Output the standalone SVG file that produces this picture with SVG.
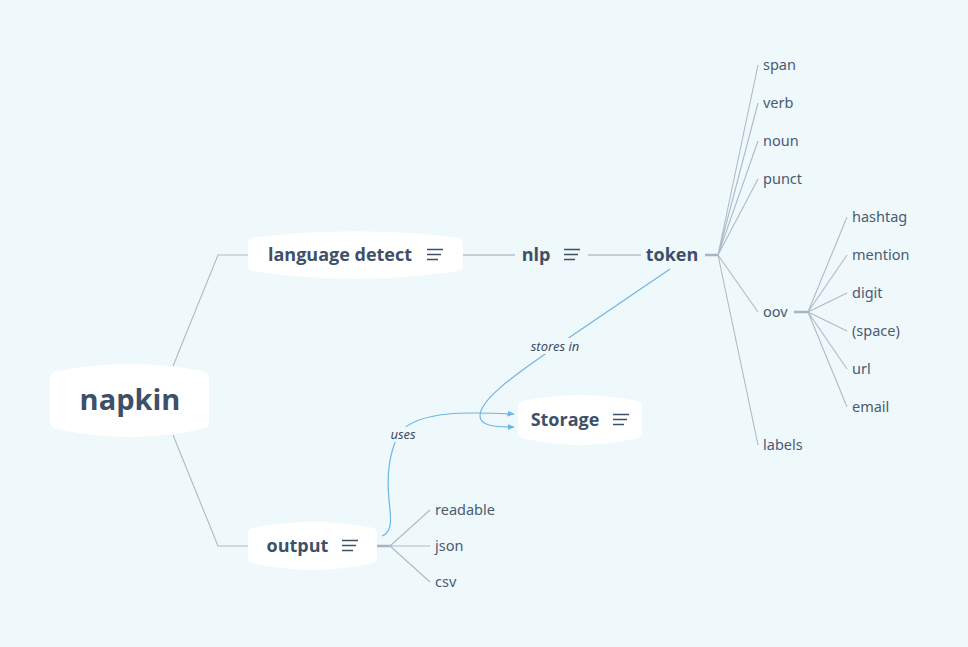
<svg xmlns="http://www.w3.org/2000/svg" width="968" height="647" viewBox="0 0 968 647">
<defs>
<style>
.bg{fill:#eff8fb}
.box{fill:#ffffff}
.t{font-family:"Open Sans","DejaVu Sans",sans-serif;font-weight:700;fill:#3e4f68;text-anchor:middle}
.c{font-family:"Noto Sans","DejaVu Sans",sans-serif;font-size:14.5px;fill:#4a5b73}
.rl{font-family:"Noto Sans","DejaVu Sans",sans-serif;font-size:13px;font-style:italic;fill:#3e4f68;text-anchor:middle}
.ln{fill:none;stroke:#aebac8;stroke-width:1.1}
.hl{fill:none;stroke:#c3ced9;stroke-width:2}
.stub{fill:none;stroke:#a7b4c3;stroke-width:2.5}
.rel{fill:none;stroke:#6cb6e4;stroke-width:1.2}
.ic{stroke:#3e4f68;stroke-width:1.5}
</style>
<marker id="arr" viewBox="0 0 10 10" refX="9" refY="5" markerWidth="6" markerHeight="6" orient="auto">
<path d="M0,1 L10,5 L0,9 z" fill="#6cb6e4"/>
</marker>
</defs>
<rect class="bg" x="0" y="0" width="968" height="647"/>

<g id="connectors">
<path class="ln" d="M173,366 L218,255 L248,255"/>
<path class="ln" d="M173,435 L218,546 L248,546"/>
<path class="hl" d="M463,255 L515,255"/>
<path class="hl" d="M588,255 L641,255"/>
<path class="stub" d="M705,255 L718,255"/>
<path class="ln" d="M718,255 L758,65 M718,255 L758,103 M718,255 L758,141 M718,255 L758,179 M718,255 L758,312 M718,255 L758,445"/>
<path class="stub" d="M794,312 L808,312"/>
<path class="ln" d="M808,312 L847,217 M808,312 L847,255 M808,312 L847,293 M808,312 L847,331 M808,312 L847,369 M808,312 L847,407"/>
<path class="stub" d="M377,546 L390,546"/>
<path class="ln" d="M390,546 L430,510 M390,546 L430,546 M390,546 L430,582"/>
<path class="rel" d="M670,269 L548,352 C512,377 480,400 480,416 C480,426 495,427 514,427" marker-end="url(#arr)"/>
<path class="rel" d="M382,536 C393,532 391,518 389,500 C387,480 387,455 400,432 C420,410 470,412 514,414" marker-end="url(#arr)"/>
<rect class="bg" x="527" y="338" width="56" height="16"/>
<text class="rl" x="555" y="351">stores in</text>
<rect class="bg" x="388" y="427" width="30" height="15"/>
<text class="rl" x="403" y="439">uses</text>
</g>

<g id="napkin">
<path class="box" d="M50,378 Q50,372 57,371 Q129.5,357 202,371 Q209,372 209,378 L209,422 Q209,428 202,429 Q129.5,445 57,429 Q50,428 50,422 Z"/>
<text class="t" x="130" y="410" font-size="29">napkin</text>
</g>

<g id="language-detect">
<path class="box" d="M248,243 Q248,238 254,237.5 Q355.5,225 457,237.5 Q463,238 463,243 L463,266 Q463,271 457,271.5 Q355.5,286 254,271.5 Q248,271 248,266 Z"/>
<text class="t" x="340" y="261" font-size="18">language detect</text>
<g class="ic"><line x1="427" y1="249.5" x2="443" y2="249.5"/><line x1="427" y1="254.5" x2="441" y2="254.5"/><line x1="427" y1="259.5" x2="438" y2="259.5"/></g>
</g>

<g id="nlp">
<text class="t" x="536" y="261" font-size="18">nlp</text>
<g class="ic"><line x1="564" y1="249.5" x2="580" y2="249.5"/><line x1="564" y1="254.5" x2="578" y2="254.5"/><line x1="564" y1="259.5" x2="575" y2="259.5"/></g>
</g>

<g id="token">
<text class="t" x="672" y="261" font-size="18">token</text>
</g>

<g id="storage">
<path class="box" d="M518,407 Q518,401 524,400.5 Q580,389.5 636,400.5 Q642,401 642,407 L642,433 Q642,438 636,438.5 Q580,451.5 524,438.5 Q518,438 518,433 Z"/>
<text class="t" x="565" y="426" font-size="18">Storage</text>
<g class="ic"><line x1="613" y1="414.5" x2="629" y2="414.5"/><line x1="613" y1="419.5" x2="627" y2="419.5"/><line x1="613" y1="424.5" x2="624" y2="424.5"/></g>
</g>

<g id="output">
<path class="box" d="M248,533 Q248,528 254,527.5 Q312.5,516.5 371,527.5 Q377,528 377,533 L377,558 Q377,563 371,563.5 Q312.5,576.5 254,563.5 Q248,563 248,558 Z"/>
<text class="t" x="297.5" y="552" font-size="18">output</text>
<g class="ic"><line x1="342" y1="540.5" x2="358" y2="540.5"/><line x1="342" y1="545.5" x2="356" y2="545.5"/><line x1="342" y1="550.5" x2="353" y2="550.5"/></g>
</g>

<g id="span"><text class="c" x="763" y="70">span</text></g>
<g id="verb"><text class="c" x="763" y="108">verb</text></g>
<g id="noun"><text class="c" x="763" y="146">noun</text></g>
<g id="punct"><text class="c" x="763" y="184">punct</text></g>
<g id="oov"><text class="c" x="763" y="317">oov</text></g>
<g id="labels"><text class="c" x="763" y="450">labels</text></g>
<g id="hashtag"><text class="c" x="852" y="222">hashtag</text></g>
<g id="mention"><text class="c" x="852" y="260">mention</text></g>
<g id="digit"><text class="c" x="852" y="298">digit</text></g>
<g id="space"><text class="c" x="852" y="336">(space)</text></g>
<g id="url"><text class="c" x="852" y="374">url</text></g>
<g id="email"><text class="c" x="852" y="412">email</text></g>
<g id="readable"><text class="c" x="435" y="515">readable</text></g>
<g id="json"><text class="c" x="435" y="551">json</text></g>
<g id="csv"><text class="c" x="435" y="587">csv</text></g>
</svg>
